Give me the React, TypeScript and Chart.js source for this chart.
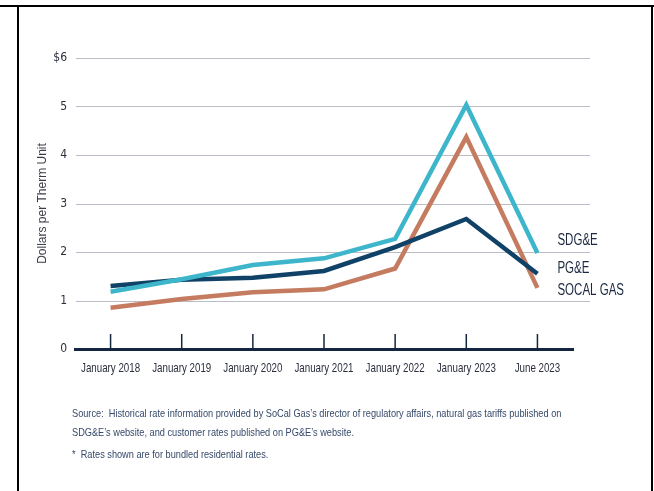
import React, { useEffect, useRef } from "react";
import { Chart, registerables } from "chart.js";

Chart.register(...registerables);

const categories = ["January 2018", "January 2019", "January 2020", "January 2021", "January 2022", "January 2023", "June 2023"];
const sdgeValues = [1.18, 1.44, 1.73, 1.87, 2.27, 5.03, 1.98];
const pgeValues = [1.3, 1.43, 1.47, 1.61, 2.1, 2.68, 1.55];
const socalValues = [0.85, 1.03, 1.17, 1.23, 1.66, 4.37, 1.26];
const seriesNames = ["SDG&E", "PG&E", "SOCAL GAS"];
const yTicks = [0, 1, 2, 3, 4, 5, 6];
const yTickLabels = ["0", "1", "2", "3", "4", "5", "$6"];

const SANS = "'Liberation Sans', Arial, sans-serif";
const NARROW = "'DejaVu Sans Condensed', 'Liberation Sans', sans-serif";
const NAVY = "#0f4266";
const CYAN = "#3db6cb";
const TERRA = "#c47b5f";
const AXIS = "#14263f";
const TEXT = "#2b2f3d";

const labelOffsets = [-12, -5, 3];

const decorPlugin = {
  id: "decor",
  beforeDatasetsDraw(chart: any) {
    const { ctx, chartArea, scales } = chart;
    const y = scales.y;
    const x = scales.x;
    ctx.save();
    ctx.strokeStyle = "#bcbcc6";
    ctx.lineWidth = 1;
    yTicks.forEach((v) => {
      if (v === 0) return;
      const py = Math.round(y.getPixelForValue(v)) + 0.5;
      ctx.beginPath();
      ctx.moveTo(chartArea.left + 1, py);
      ctx.lineTo(chartArea.right + 17, py);
      ctx.stroke();
    });
    ctx.strokeStyle = AXIS;
    ctx.lineWidth = 1.5;
    const by = y.getPixelForValue(0);
    categories.forEach((_, i) => {
      const px = x.getPixelForValue(i);
      ctx.beginPath();
      ctx.moveTo(px, by - 15);
      ctx.lineTo(px, by);
      ctx.stroke();
    });
    ctx.restore();
  },
  afterDraw(chart: any) {
    const { ctx, scales } = chart;
    const x = scales.x;
    const by = scales.y.getPixelForValue(0);
    ctx.save();
    ctx.fillStyle = TEXT;
    ctx.font = "13px " + SANS;
    ctx.textBaseline = "middle";
    ctx.textAlign = "center";
    categories.forEach((c, i) => {
      ctx.save();
      ctx.translate(x.getPixelForValue(i), by + 19);
      ctx.scale(0.75, 1);
      ctx.fillText(c, 0, 0);
      ctx.restore();
    });
    ctx.fillStyle = "#1c2940";
    ctx.font = "16px " + SANS;
    ctx.textAlign = "left";
    chart.data.datasets.forEach((ds: any, i: number) => {
      const meta = chart.getDatasetMeta(i);
      const pt = meta.data[meta.data.length - 1];
      ctx.save();
      ctx.translate(pt.x + 20, pt.y + labelOffsets[i]);
      ctx.scale(0.72, 1);
      ctx.fillText(seriesNames[i], 0, 0);
      ctx.restore();
    });
    ctx.restore();
  },
};

function LineChart() {
  const ref = useRef<HTMLCanvasElement | null>(null);
  useEffect(() => {
    if (!ref.current) return;
    const chart = new Chart(ref.current, {
      type: "line",
      data: {
        labels: categories,
        datasets: [
          { label: seriesNames[0], data: sdgeValues, borderColor: CYAN, backgroundColor: CYAN, borderWidth: 4.5, pointRadius: 0, tension: 0, borderJoinStyle: "miter", borderCapStyle: "butt" },
          { label: seriesNames[1], data: pgeValues, borderColor: NAVY, backgroundColor: NAVY, borderWidth: 4.5, pointRadius: 0, tension: 0, borderJoinStyle: "miter", borderCapStyle: "butt" },
          { label: seriesNames[2], data: socalValues, borderColor: TERRA, backgroundColor: TERRA, borderWidth: 4.5, pointRadius: 0, tension: 0, borderJoinStyle: "miter", borderCapStyle: "butt" },
        ],
      },
      options: {
        animation: false,
        responsive: false,
        maintainAspectRatio: false,
        layout: { padding: { top: 58, left: 0, right: 81, bottom: 112 } },
        plugins: { legend: { display: false }, tooltip: { enabled: false } },
        scales: {
          x: {
            offset: true,
            grid: { display: false, drawTicks: false },
            border: { display: true, color: AXIS, width: 3 },
            ticks: { display: false },
            afterFit: (s: any) => { s.height = 30; },
          },
          y: {
            min: 0,
            max: 6,
            grid: { display: false, drawTicks: false },
            border: { display: false },
            ticks: {
              stepSize: 1,
              color: TEXT,
              font: { family: NARROW, size: 12 },
              padding: 8,
              callback: (v: any) => yTickLabels[yTicks.indexOf(Number(v))],
            },
            title: { display: true, text: "Dollars per Therm Unit", color: "#3a3d48", font: { family: SANS, size: 12 }, padding: { top: 35, bottom: 0 } },
            afterFit: (s: any) => { s.width = 75; },
          },
        },
      },
      plugins: [decorPlugin],
    } as any);
    return () => chart.destroy();
  }, []);
  return <canvas ref={ref} width={654} height={491} style={{ position: "absolute", left: 0, top: 0 }} />;
}

export default function App() {
  useEffect(() => {
    document.body.style.margin = "0";
  }, []);
  const noteStyle: React.CSSProperties = {
    position: "absolute",
    left: 72,
    fontFamily: SANS,
    fontSize: 11.5,
    color: "#36496a",
    lineHeight: "19px",
    whiteSpace: "nowrap",
    transform: "scaleX(0.8)",
    transformOrigin: "left top",
  };
  return (
    <div style={{ position: "relative", width: 654, height: 491, overflow: "hidden", background: "#fff" }}>
      <LineChart />
      <div style={{ position: "absolute", left: 0, top: 5, width: 654, height: 2, background: "#000" }} />
      <div style={{ position: "absolute", left: 17, top: 5, width: 2, height: 486, background: "#000" }} />
      <div style={{ position: "absolute", left: 651, top: 5, width: 2, height: 486, background: "#000" }} />
      <div style={{ ...noteStyle, top: 404 }}>
        Source:&nbsp; Historical rate information provided by SoCal Gas’s director of regulatory affairs, natural gas tariffs published on
        <br />
        SDG&amp;E’s website, and customer rates published on PG&amp;E’s website.
      </div>
      <div style={{ ...noteStyle, top: 445 }}>*&nbsp; Rates shown are for bundled residential rates.</div>
    </div>
  );
}
